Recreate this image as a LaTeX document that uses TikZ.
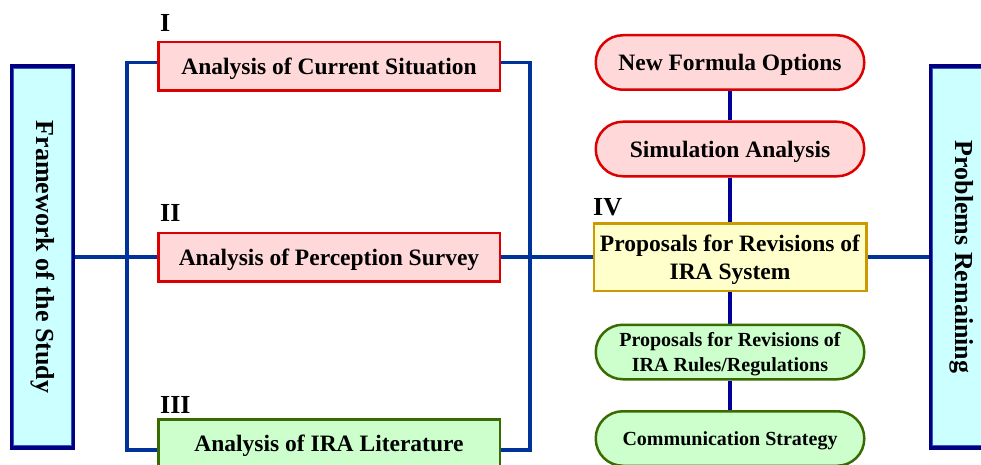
\documentclass[tikz,border=0pt]{standalone}
\usepackage{fontspec}
\setmainfont{Liberation Serif}
\usepackage{graphicx}
\usetikzlibrary{positioning, backgrounds}

\definecolor{pinkfill}{HTML}{FFD9D9}
\definecolor{redline}{HTML}{DD0000}
\definecolor{greenfill}{HTML}{CCFFCC}
\definecolor{greenline}{HTML}{3A6B00}
\definecolor{yellowfill}{HTML}{FFFFCC}
\definecolor{goldline}{HTML}{CC9900}
\definecolor{cyanfill}{HTML}{CCFFFF}
\definecolor{navyline}{HTML}{000080}
\definecolor{innerline}{HTML}{3355CC}
\definecolor{linkblue}{HTML}{003399}
\definecolor{spineblue}{HTML}{000099}

\begin{document}
\begin{tikzpicture}[x=1pt, y=-1pt,
          % Base node styles
          box/.style={rectangle, line width=2.5pt, align=center, inner sep=0pt, text depth=0pt, font=\fontsize{23.5}{28}\selectfont\bfseries},
          pill/.style={box, rounded corners=27pt, minimum width=268.5pt, minimum height=54.5pt},
          small/.style={font=\fontsize{20}{25}\selectfont\bfseries},
          % Study parts (left column)
          redbox/.style={box, fill=pinkfill, draw=redline, minimum width=341.5pt, minimum height=48.5pt},
          greenbox/.style={box, fill=greenfill, draw=greenline, minimum width=341.5pt, minimum height=48.5pt},
          % Proposals (right column)
          yellowbox/.style={box, fill=yellowfill, draw=goldline, minimum width=272.5pt, minimum height=67.5pt},
          redpill/.style={pill, fill=pinkfill, draw=redline},
          greenpill/.style={pill, fill=greenfill, draw=greenline},
          % Side frames
          sidebox/.style={rectangle, fill=cyanfill, draw=navyline, line width=4pt, minimum width=61pt, minimum height=381pt, inner sep=0pt, font=\fontsize{26}{30}\selectfont\bfseries},
          sideline/.style={draw=innerline, line width=1.3pt},
          % Part numbers
          tag/.style={anchor=base west, inner sep=0pt, font=\fontsize{26}{30}\selectfont\bfseries},
          % Connector styles
          link/.style={draw=linkblue, line width=3.5pt},
          spine/.style={draw=spineblue, line width=3.5pt}
        ]
          \clip (0,0) rectangle (981,465);

          % ==========================================
          % 1. Side frames
          % ==========================================
          \node[sidebox] (fw) at (42.5,257) {\rotatebox{-90}{Framework of the Study}};
          \node[sidebox] (pr) at (961.5,257) {\rotatebox{-90}{Problems Remaining}};
          \draw[sideline] ([shift={(3.7,3.7)}]fw.north west) rectangle ([shift={(-3.7,-3.7)}]fw.south east);
          \draw[sideline] ([shift={(3.7,3.7)}]pr.north west) rectangle ([shift={(-3.7,-3.7)}]pr.south east);

          % ==========================================
          % 2. Parts I--III
          % ==========================================
          \node[redbox] (cur) at (329,66.5) {Analysis of Current Situation};
          \node[redbox] (sur) at (329,257) {Analysis of Perception Survey};
          \node[greenbox] (lit) at (329,443.5) {Analysis of IRA Literature};

          \node[tag] (tagI) at (160,32) {I};
          \node[tag] (tagII) at (160,221) {II};
          \node[tag] (tagIII) at (160,413) {III};

          % ==========================================
          % 3. Part IV and its proposals
          % ==========================================
          \node[redpill] (nfo) at (730,62.5) {New Formula Options};
          \node[redpill] (sim) at (730,149) {Simulation Analysis};
          \node[yellowbox] (iv) at (730,257) {Proposals for Revisions of\\IRA System};
          \node[greenpill, small] (rul) at (730,352) {Proposals for Revisions of\\IRA Rules/Regulations};
          \node[greenpill, small] (com) at (730,438.5) {Communication Strategy};

          \node[tag] (tagIV) at (593,215) {IV};

          % ==========================================
          % 4. Edges
          % ==========================================
          \coordinate (lj) at (127,257);
          \coordinate (rj) at (530,257);
          \begin{scope}[on background layer]
            \draw[link] (fw.east) -- (sur.west);
            \draw[link] ([yshift=4pt]cur.west) -| (lj) |- ([yshift=-6.5pt]lit.west);
            \draw[link] ([yshift=4pt]cur.east) -| (rj) |- ([yshift=-6.5pt]lit.east);
            \draw[link] (sur.east) -- (iv.west);
            \draw[link] (iv.east) -- (pr.west);
            \draw[spine] (nfo) -- (sim) -- (iv) -- (rul) -- (com);
          \end{scope}
        \end{tikzpicture}
\end{document}
